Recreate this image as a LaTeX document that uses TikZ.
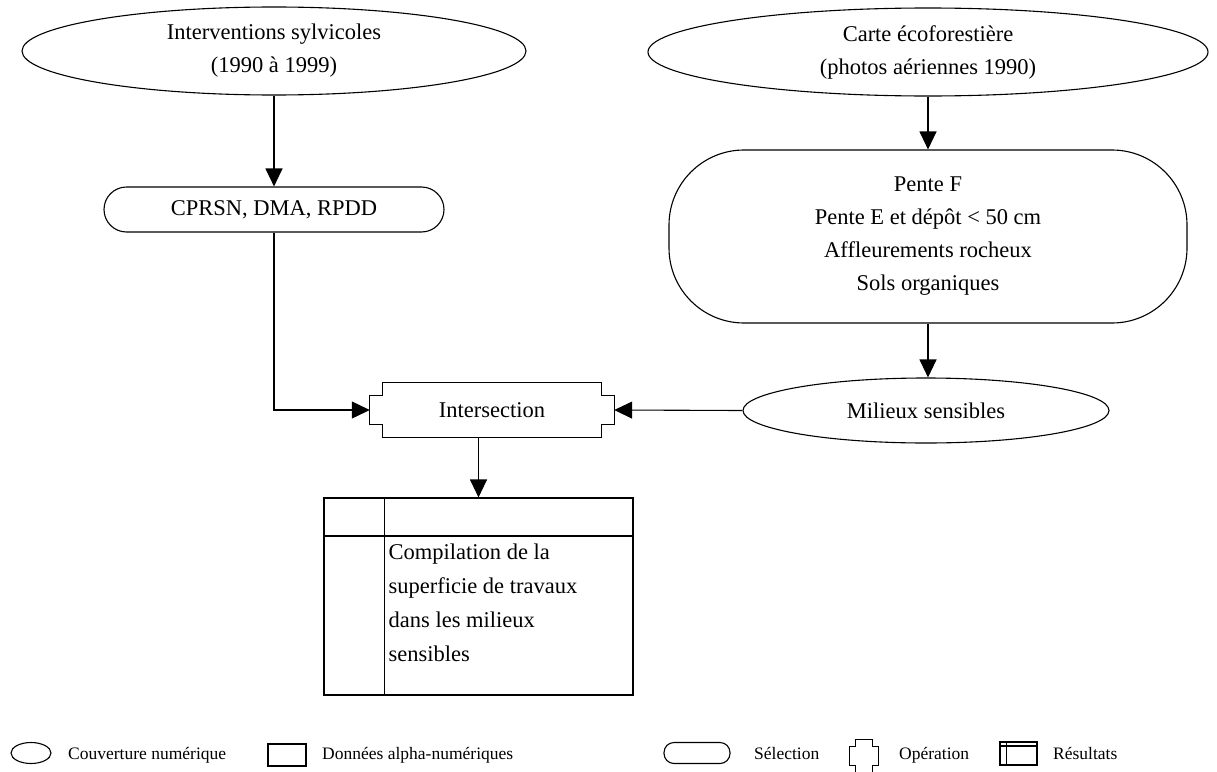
\documentclass[tikz,border=0pt]{standalone}
\usepackage{fontspec}
\setmainfont{Liberation Serif}
\usetikzlibrary{arrows.meta,shapes.geometric,calc}

\begin{document}
\begin{tikzpicture}[x=1pt,y=-1pt,
  lw/.style={line width=1.1pt},
  txt/.style={font=\fontsize{22.5}{33}\selectfont, align=center},
  arr/.style={lw, -{Triangle[length=18pt,width=17pt]}},
  cover/.style={ellipse, draw, lw, inner sep=0pt, txt},
  selbox/.style={rectangle, draw, lw, inner sep=0pt, txt},
  plain/.style={rectangle, inner sep=0pt, txt},
  legtext/.style={font=\fontsize{17.5}{20}\selectfont, anchor=base west, inner sep=0pt},
  legicon/.style={draw, lw, inner sep=0pt}
]
\useasboundingbox (0,0) rectangle (1217,771);
\clip (0,0) rectangle (1217,771);

% --- source layers ---
\node[cover, minimum width=504pt, minimum height=88pt] (A) at (274,51)
  {Interventions sylvicoles\\(1990 à 1999)};
\node[cover, minimum width=560pt, minimum height=88pt] (D) at (928,52)
  {Carte écoforestière\\(photos aériennes 1990)};

% --- selections ---
\node[selbox, rounded corners=22.5pt, minimum width=340pt, minimum height=45pt] (B) at (274,209.5)
  {CPRSN, DMA, RPDD};
\node[selbox, rounded corners=75pt, minimum width=518pt, minimum height=173pt] (C) at (928,236.5)
  {Pente F\\Pente E et dépôt < 50 cm\\Affleurements rocheux\\Sols organiques};

% --- derived coverage ---
\node[cover, minimum width=366pt, minimum height=65pt] (M) at (926,410.5)
  {Milieux sensibles};

% --- operation: intersection (notched box) ---
\node[plain, minimum width=244pt, minimum height=54pt] (I) at (492,410) {Intersection};
\draw[lw] ($(I.north west)+(13,0)$) -- ($(I.north east)+(-13,0)$)
  -- ++(0,12.5) -- ++(13,0) -- ($(I.south east)+(0,-12.5)$) -- ++(-13,0)
  -- ++(0,12.5) -- ($(I.south west)+(13,0)$) -- ++(0,-12.5) -- ++(-13,0)
  -- ($(I.north west)+(0,12.5)$) -- ++(13,0) -- cycle;

% --- result table ---
\node[rectangle, draw, lw, inner sep=0pt, minimum width=309pt, minimum height=197pt] (T) at (478.5,596.5) {};
\draw[lw] ($(T.north west)+(0,38.5)$) -- ($(T.north east)+(0,38.5)$);
\draw[lw] ($(T.north west)+(61,0)$) -- ($(T.south west)+(61,0)$);
\node[plain, font=\fontsize{22.5}{34}\selectfont, align=left, anchor=north west] (Ttext)
  at ($(T.north west)+(65,46)$)
  {Compilation de la\\superficie de travaux\\dans les milieux\\sensibles};

% --- connectors ---
\draw[arr] (A.south) -- (B.north);
\draw[arr] (D.south) -- (C.north);
\draw[arr] (C.south) -- (C.south |- M.north);
\draw[arr] (B.south) |- (I.west);
\draw[arr] (M.west) -- (I.east);
\draw[arr] (T.north |- I.south) -- (T.north);

% --- legend ---
\node[legicon, ellipse, minimum width=40pt, minimum height=21pt] (L1) at (31,753) {};
\node[legtext] (L1t) at (68,759) {Couverture numérique};
\node[legicon, rectangle, minimum width=38pt, minimum height=22pt] (L2) at (287,755) {};
\node[legtext] (L2t) at (322,759) {Données alpha-numériques};
\node[legicon, rectangle, rounded corners=10pt, minimum width=66pt, minimum height=21pt] (L3) at (697,753) {};
\node[legtext] (L3t) at (754,759) {Sélection};
\node[rectangle, inner sep=0pt, minimum width=28pt, minimum height=32pt] (L4) at (864,756) {};
\draw[lw] ($(L4.north west)+(6,0)$) -- ($(L4.north east)+(-6,0)$)
  -- ++(0,7) -- ++(6,0) -- ($(L4.south east)+(0,-7)$) -- ++(-6,0)
  -- ++(0,7) -- ($(L4.south west)+(6,0)$) -- ++(0,-7) -- ++(-6,0)
  -- ($(L4.north west)+(0,7)$) -- ++(6,0) -- cycle;
\node[legtext] (L4t) at (899,759) {Opération};
\node[legicon, rectangle, minimum width=37pt, minimum height=23pt] (L5) at (1018.5,753.5) {};
\draw[lw] ($(L5.north west)+(0,4.5)$) -- ($(L5.north east)+(0,4.5)$);
\draw[lw] ($(L5.north west)+(7,0)$) -- ($(L5.south west)+(7,0)$);
\node[legtext] (L5t) at (1053,759) {Résultats};
\end{tikzpicture}
\end{document}
